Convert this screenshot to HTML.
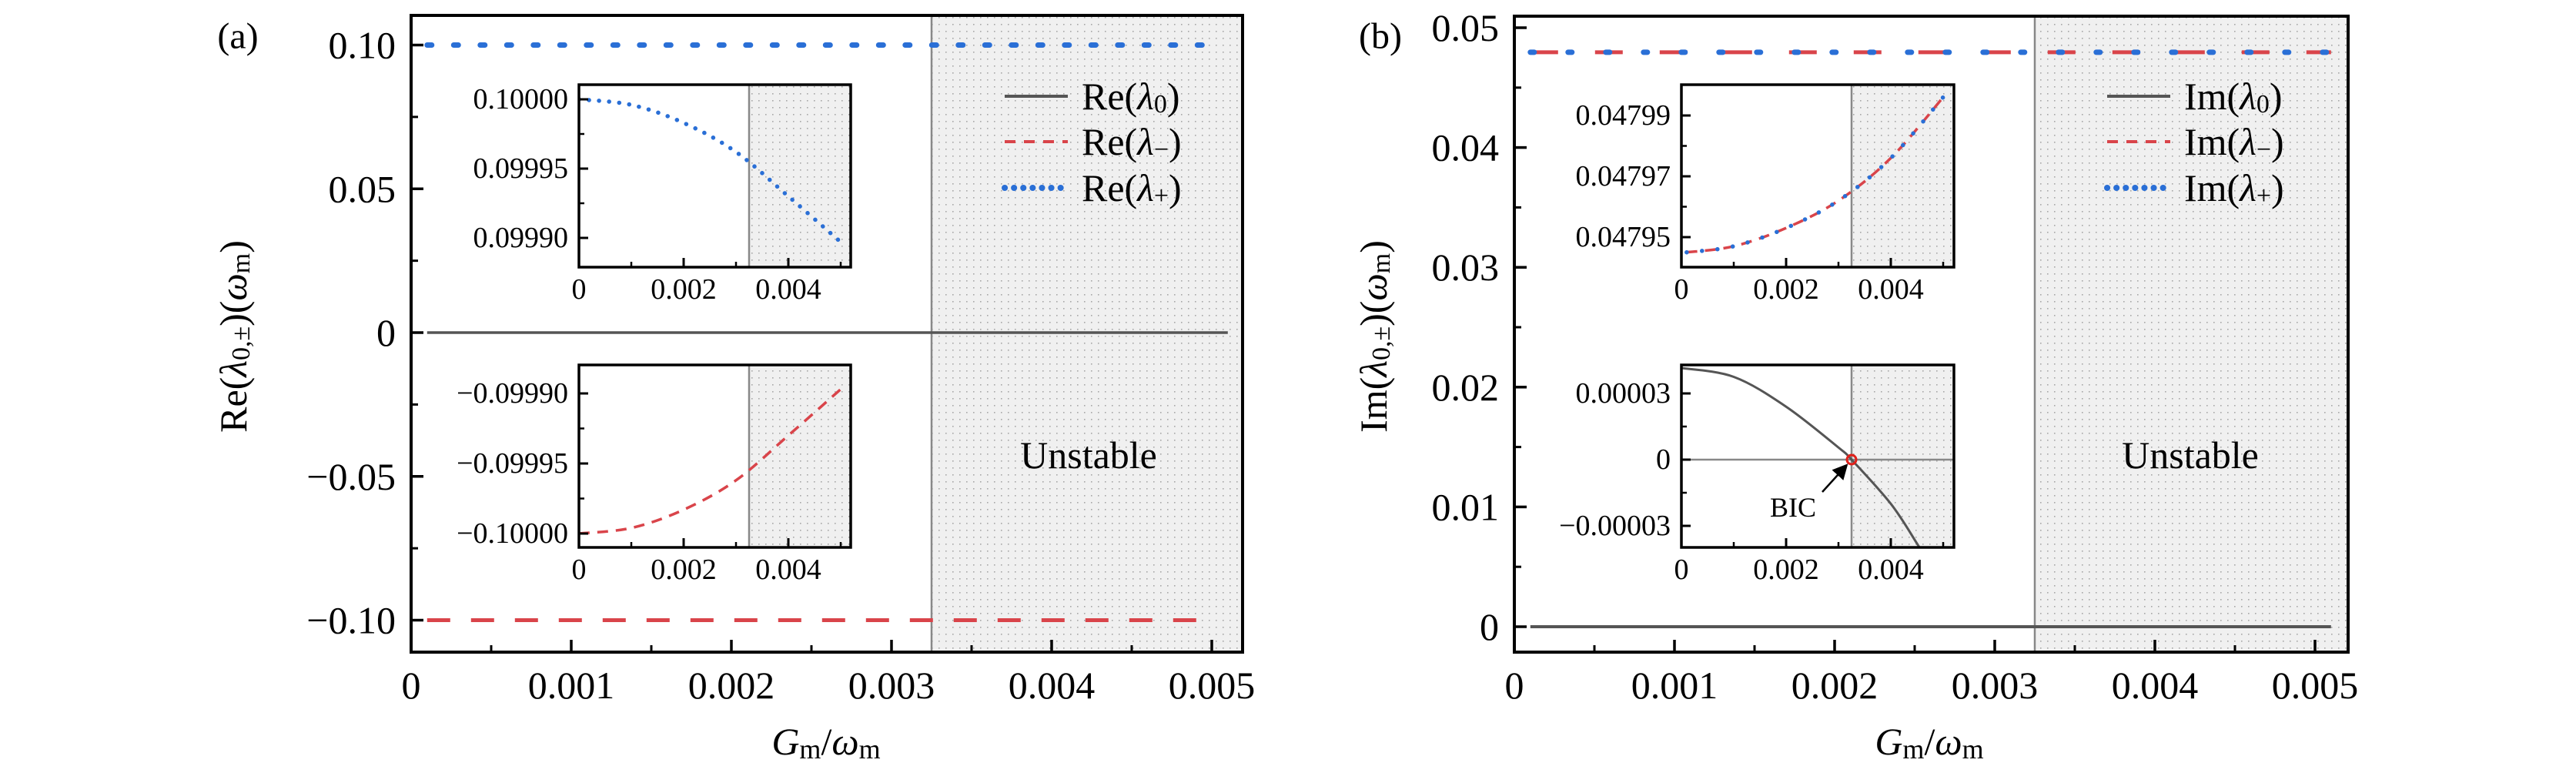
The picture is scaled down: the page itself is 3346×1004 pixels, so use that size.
<!DOCTYPE html>
<html><head><meta charset="utf-8">
<style>
html,body{margin:0;padding:0;background:#fff;}
svg{display:block;font-family:"Liberation Serif",serif;}
</style></head>
<body>
<svg id="fig" width="3346" height="1004" viewBox="0 0 3346 1004" xmlns="http://www.w3.org/2000/svg">
<defs>
<pattern id="dots" width="9" height="9" patternUnits="userSpaceOnUse">
<rect width="9" height="9" fill="#f0f0f0"/>
<rect x="4" y="4" width="1.6" height="1.6" fill="#a8a8a8"/>
</pattern>
<clipPath id="clipA1"><rect x="752" y="110" width="353" height="237"/></clipPath>
<clipPath id="clipA2"><rect x="752" y="474" width="353" height="237"/></clipPath>
<clipPath id="clipB1"><rect x="2184" y="110" width="354" height="237"/></clipPath>
<clipPath id="clipB2"><rect x="2184" y="474" width="354" height="237"/></clipPath>
<marker id="arrowHead" markerWidth="8" markerHeight="8" refX="6" refY="4" orient="auto" markerUnits="strokeWidth"><path d="M0,0 L8,4 L0,8 Z" fill="#000"/></marker>
</defs>
<g id="root"></g>
</svg>
<script>
// ---------- data ----------
const mainXTicks = [0, 0.001, 0.002, 0.003, 0.004, 0.005];
const mainXTickLabels = ["0", "0.001", "0.002", "0.003", "0.004", "0.005"];
const aYTicks = [0.10, 0.05, 0, -0.05, -0.10];
const aYTickLabels = ["0.10", "0.05", "0", "\u22120.05", "\u22120.10"];
const bYTicks = [0.05, 0.04, 0.03, 0.02, 0.01, 0];
const bYTickLabels = ["0.05", "0.04", "0.03", "0.02", "0.01", "0"];
const unstableStart = 0.00325;

const aMainX = [0.0001, 0.005];
const aReLam0X = [0.0001, 0.0051];
const aReLam0 = [0, 0];
const aReLamMinus = [-0.1, -0.1];
const aReLamPlus = [0.1, 0.1];

const insetX = [0, 0.001, 0.002, 0.003, 0.004, 0.005];
const insetAPlus = [0.1, 0.099996, 0.099983, 0.099962, 0.099930, 0.099897];
const insetAMinus = [-0.1, -0.099996, -0.099983, -0.099962, -0.099930, -0.099897];
const insetXTicks = [0, 0.002, 0.004];
const insetXTickLabels = ["0", "0.002", "0.004"];
const insetA1YTicks = [0.1, 0.09995, 0.0999];
const insetA1YTickLabels = ["0.10000", "0.09995", "0.09990"];
const insetA2YTicks = [-0.0999, -0.09995, -0.1];
const insetA2YTickLabels = ["\u22120.09990", "\u22120.09995", "\u22120.10000"];

const bMainX = [0.0001, 0.0051];
const bImLam0 = [0, 0];
const bImLamMinus = [0.04795, 0.04795];
const bImLamPlus = [0.04795, 0.04795];

const insetBImX = [0.0001, 0.001, 0.002, 0.003, 0.004, 0.005];
const insetBImPM = [0.047945, 0.047947, 0.047953, 0.047962, 0.047976, 0.047996];
const insetB1YTicks = [0.04799, 0.04797, 0.04795];
const insetB1YTickLabels = ["0.04799", "0.04797", "0.04795"];
const insetB0X = [0, 0.001, 0.002, 0.003, 0.00325, 0.004, 0.0045, 0.0047];
const insetB0 = [0.0000415, 0.0000375, 0.000024, 0.0000055, 0, -0.00002, -0.000038, -0.000046];
const insetB2YTicks = [0.00003, 0, -0.00003];
const insetB2YTickLabels = ["0.00003", "0", "\u22120.00003"];
const bicPoint = [0.00325, 0];

// ---------- helpers ----------
const NS = "http://www.w3.org/2000/svg";
const root = document.getElementById("root");
function mk(tag, attrs, name, parent) {
  const el = document.createElementNS(NS, tag);
  for (const k in attrs) el.setAttribute(k, attrs[k]);
  
  
  (parent || root).appendChild(el);
  return el;
}
function lin(d0, d1, r0, r1) { return v => r0 + (v - d0) * (r1 - r0) / (d1 - d0); }
function pathFrom(xs, ys, sx, sy) {
  return xs.map((x, i) => (i ? "L" : "M") + sx(x).toFixed(1) + "," + sy(ys[i]).toFixed(1)).join(" ");
}
function smoothPath(xs, ys, sx, sy) {
  const p = xs.map((x, i) => [sx(x), sy(ys[i])]);
  let d = "M" + p[0][0] + "," + p[0][1];
  for (let i = 0; i < p.length - 1; i++) {
    const p0 = p[i - 1] || p[i], p1 = p[i], p2 = p[i + 1], p3 = p[i + 2] || p2;
    const c1 = [p1[0] + (p2[0] - p0[0]) / 6, p1[1] + (p2[1] - p0[1]) / 6];
    const c2 = [p2[0] - (p3[0] - p1[0]) / 6, p2[1] - (p3[1] - p1[1]) / 6];
    d += " C" + c1.join(",") + " " + c2.join(",") + " " + p2.join(",");
  }
  return d;
}
function text(x, y, str, size, anchor, name, parent) {
  const t = mk("text", {x: x, y: y, "font-size": size, "text-anchor": anchor || "middle", "dominant-baseline": "central", fill: "#000"}, name, parent);
  t.textContent = str;
  return t;
}
const RED = "#d9444a", BLUE = "#2a6fd6", GREY = "#555";

// ---------- main panel builder ----------
function mainPanel(P) {
  const g = mk("g", {}, P.id + "-panel");
  const sx = lin(0, 0.001, P.x0, P.x0 + 208);
  const sy = P.sy;
  mk("rect", {x: sx(unstableStart), y: P.top, width: P.right - sx(unstableStart), height: P.bottom - P.top, fill: "url(#dots)"}, "unstable-region", g);
  mk("line", {x1: sx(unstableStart), x2: sx(unstableStart), y1: P.top, y2: P.bottom, stroke: "#888", "stroke-width": 2.5}, "stability-boundary", g);
  P.draw(g, sx, sy);
  mk("rect", {x: P.left, y: P.top, width: P.right - P.left, height: P.bottom - P.top, fill: "none", stroke: "#000", "stroke-width": 4}, "axes-frame", g);
  mainXTicks.forEach((v, i) => {
    mk("line", {x1: sx(v), x2: sx(v), y1: P.bottom, y2: P.bottom - 16, stroke: "#000", "stroke-width": 3.5}, "x-tick", g);
    if (sx(v + 0.0005) < P.right - 4) {
      mk("line", {x1: sx(v + 0.0005), x2: sx(v + 0.0005), y1: P.bottom, y2: P.bottom - 9, stroke: "#000", "stroke-width": 3}, "x-minor-tick", g);
    }
    text(sx(v), 890, mainXTickLabels[i], 50, "middle", "x-tick-label", g);
  });
  P.yTicks.forEach((v, i) => {
    mk("line", {x1: P.left, x2: P.left + 16, y1: sy(v), y2: sy(v), stroke: "#000", "stroke-width": 3.5}, "y-tick", g);
    text(P.left - 20, sy(v), P.yLabels[i], 50, "end", "y-tick-label", g);
  });
  P.yMinor.forEach(v => {
    mk("line", {x1: P.left, x2: P.left + 9, y1: sy(v), y2: sy(v), stroke: "#000", "stroke-width": 3}, "y-minor-tick", g);
  });
  const xl = mk("text", {x: P.xLabelX, y: 963, "font-size": 50, "text-anchor": "middle", "dominant-baseline": "central"}, "x-axis-title", g);
  xl.innerHTML = '<tspan font-style="italic">G</tspan><tspan font-size="36" dy="10">m</tspan><tspan dy="-10">/</tspan><tspan font-style="italic">ω</tspan><tspan font-size="36" dy="10">m</tspan>';
  const yl = mk("text", {x: 0, y: 0, "font-size": 50, "text-anchor": "middle", "dominant-baseline": "central", transform: "translate(" + P.yLabelX + ",437) rotate(-90)"}, "y-axis-title", g);
  yl.innerHTML = P.yTitle;
  text(P.tagX, 47, P.tag, 48, "middle", "panel-label", g);
  text(P.unstableX, 591, "Unstable", 50, "middle", "unstable-label", g);
  const lg = mk("g", {}, "legend", g);
  const rows = [[GREY, "", 4, "solid"], [RED, "14 11", 4, "dash"], [BLUE, "0.1 12", 8, "dot"]];
  rows.forEach((r, i) => {
    const y = [125, 184, 244][i];
    const attrs = {x1: P.legX, x2: P.legX + 82, y1: y, y2: y, stroke: r[0], "stroke-width": r[2]};
    if (r[1]) attrs["stroke-dasharray"] = r[1];
    if (r[3] === "dot") attrs["stroke-linecap"] = "round";
    mk("line", attrs, "legend-swatch", lg);
    const t = mk("text", {x: P.legX + 100, y: y, "font-size": 50, "dominant-baseline": "central"}, "legend-entry", lg);
    t.innerHTML = P.legPrefix + '(<tspan font-style="italic">λ</tspan><tspan font-size="34" dy="10">' + ["0", "−", "+"][i] + '</tspan><tspan dy="-10">)</tspan>';
  });
  return g;
}

function inset(g, I) {
  const ig = mk("g", {}, I.name, g);
  const sx = lin(0, 0.001, I.left, I.left + 68);
  mk("rect", {x: I.left, y: I.top, width: I.right - I.left, height: I.bottom - I.top, fill: "#fff"}, "inset-bg", ig);
  mk("rect", {x: sx(unstableStart), y: I.top, width: I.right - sx(unstableStart), height: I.bottom - I.top, fill: "url(#dots)"}, "inset-unstable-region", ig);
  mk("line", {x1: sx(unstableStart), x2: sx(unstableStart), y1: I.top, y2: I.bottom, stroke: "#888", "stroke-width": 2.5}, "inset-boundary", ig);
  I.draw(ig, sx, I.sy);
  mk("rect", {x: I.left, y: I.top, width: I.right - I.left, height: I.bottom - I.top, fill: "none", stroke: "#000", "stroke-width": 3.5}, "inset-frame", ig);
  insetXTicks.forEach((v, i) => {
    mk("line", {x1: sx(v), x2: sx(v), y1: I.bottom, y2: I.bottom - 12, stroke: "#000", "stroke-width": 3}, "inset-x-tick", ig);
    mk("line", {x1: sx(v + 0.001), x2: sx(v + 0.001), y1: I.bottom, y2: I.bottom - 7, stroke: "#000", "stroke-width": 2.5}, "inset-x-minor-tick", ig);
    text(sx(v), I.bottom + 29, insetXTickLabels[i], 38, "middle", "inset-x-tick-label", ig);
  });
  I.yTicks.forEach((v, i) => {
    mk("line", {x1: I.left, x2: I.left + 12, y1: I.sy(v), y2: I.sy(v), stroke: "#000", "stroke-width": 3}, "inset-y-tick", ig);
    text(I.left - 14, I.sy(v), I.yLabels[i], 38, "end", "inset-y-tick-label", ig);
  });
  for (let k = 0; k < I.yTicks.length - 1; k++) {
    const m = (I.yTicks[k] + I.yTicks[k + 1]) / 2;
    mk("line", {x1: I.left, x2: I.left + 7, y1: I.sy(m), y2: I.sy(m), stroke: "#000", "stroke-width": 2.5}, "inset-y-minor-tick", ig);
  }
}

// ---------- panel (a) ----------
const gA = mainPanel({
  id: "a", x0: 534, left: 534, right: 1614, top: 20, bottom: 847,
  sy: lin(0, 0.1, 432, 58.5),
  yTicks: aYTicks, yLabels: aYTickLabels, yMinor: [0.075, 0.025, -0.025, -0.075],
  xLabelX: 1073, yLabelX: 303, tag: "(a)", tagX: 309, unstableX: 1414, legX: 1305, legPrefix: "Re",
  yTitle: 'Re(<tspan font-style="italic">λ</tspan><tspan font-size="34" dy="10">0,±</tspan><tspan dy="-10">)(</tspan><tspan font-style="italic">ω</tspan><tspan font-size="34" dy="10">m</tspan><tspan dy="-10">)</tspan>',
  draw: (g, sx, sy) => {
    mk("path", {d: pathFrom(aReLam0X, aReLam0, sx, sy), stroke: GREY, "stroke-width": 3.5, fill: "none"}, "series-re-lambda0", g);
    mk("path", {d: pathFrom(aMainX, aReLamMinus, sx, sy), stroke: RED, "stroke-width": 5, fill: "none", "stroke-dasharray": "30 27"}, "series-re-lambda-minus", g);
    mk("path", {d: pathFrom(aMainX, aReLamPlus, sx, sy), stroke: BLUE, "stroke-width": 7, fill: "none", "stroke-dasharray": "6 28.5", "stroke-linecap": "round"}, "series-re-lambda-plus", g);
  }
});
inset(gA, {name: "inset-a-upper", left: 752, right: 1105, top: 110, bottom: 347,
  sy: lin(0.1, 0.09995, 129, 219), yTicks: insetA1YTicks, yLabels: insetA1YTickLabels,
  draw: (g, sx, sy) => {
    mk("path", {d: smoothPath(insetX, insetAPlus, sx, sy), stroke: BLUE, "stroke-width": 5.5, fill: "none", "stroke-dasharray": "0.1 13", "stroke-linecap": "round", "clip-path": "url(#clipA1)"}, "inset-re-lambda-plus", g);
  }});
inset(gA, {name: "inset-a-lower", left: 752, right: 1105, top: 474, bottom: 711,
  sy: lin(-0.0999, -0.09995, 511, 602), yTicks: insetA2YTicks, yLabels: insetA2YTickLabels,
  draw: (g, sx, sy) => {
    mk("path", {d: smoothPath(insetX, insetAMinus, sx, sy), stroke: RED, "stroke-width": 3.5, fill: "none", "stroke-dasharray": "14 10", "clip-path": "url(#clipA2)"}, "inset-re-lambda-minus", g);
  }});

// ---------- panel (b) ----------
const gB = mainPanel({
  id: "b", x0: 1967, left: 1967, right: 3050, top: 21, bottom: 847,
  sy: lin(0, 0.01, 814, 658.4),
  yTicks: bYTicks, yLabels: bYTickLabels, yMinor: [0.045, 0.035, 0.025, 0.015, 0.005],
  xLabelX: 2506, yLabelX: 1784, tag: "(b)", tagX: 1793, unstableX: 2845, legX: 2737, legPrefix: "Im",
  yTitle: 'Im(<tspan font-style="italic">λ</tspan><tspan font-size="34" dy="10">0,±</tspan><tspan dy="-10">)(</tspan><tspan font-style="italic">ω</tspan><tspan font-size="34" dy="10">m</tspan><tspan dy="-10">)</tspan>',
  draw: (g, sx, sy) => {
    mk("path", {d: pathFrom(bMainX, bImLam0, sx, sy), stroke: GREY, "stroke-width": 4, fill: "none"}, "series-im-lambda0", g);
    mk("path", {d: pathFrom(bMainX, bImLamMinus, sx, sy), stroke: RED, "stroke-width": 5, fill: "none", "stroke-dasharray": "36 48"}, "series-im-lambda-minus", g);
    mk("path", {d: pathFrom(bMainX, bImLamPlus, sx, sy), stroke: BLUE, "stroke-width": 7, fill: "none", "stroke-dasharray": "5 44", "stroke-linecap": "round"}, "series-im-lambda-plus", g);
  }
});
inset(gB, {name: "inset-b-upper", left: 2184, right: 2538, top: 110, bottom: 347,
  sy: lin(0.04799, 0.04795, 150, 308), yTicks: insetB1YTicks, yLabels: insetB1YTickLabels,
  draw: (g, sx, sy) => {
    mk("path", {d: smoothPath(insetBImX, insetBImPM, sx, sy), stroke: RED, "stroke-width": 3.5, fill: "none", "stroke-dasharray": "14 10", "clip-path": "url(#clipB1)"}, "inset-im-lambda-minus", g);
    mk("path", {d: smoothPath(insetBImX, insetBImPM, sx, sy), stroke: BLUE, "stroke-width": 5.5, fill: "none", "stroke-dasharray": "0.1 20", "stroke-linecap": "round", "clip-path": "url(#clipB1)"}, "inset-im-lambda-plus", g);
  }});
inset(gB, {name: "inset-b-lower", left: 2184, right: 2538, top: 474, bottom: 711,
  sy: lin(0, 0.00003, 597, 511), yTicks: insetB2YTicks, yLabels: insetB2YTickLabels,
  draw: (g, sx, sy) => {
    mk("line", {x1: 2184, x2: 2538, y1: sy(0), y2: sy(0), stroke: "#888", "stroke-width": 2.5}, "inset-zero-line", g);
    mk("path", {d: smoothPath(insetB0X, insetB0, sx, sy), stroke: GREY, "stroke-width": 3, fill: "none", "clip-path": "url(#clipB2)"}, "inset-im-lambda0", g);
    mk("circle", {cx: sx(bicPoint[0]), cy: sy(bicPoint[1]), r: 6, fill: "none", stroke: "#e0201a", "stroke-width": 3}, "bic-marker", g);
    mk("line", {x1: sx(bicPoint[0]) - 38, y1: sy(bicPoint[1]) + 42, x2: sx(bicPoint[0]) - 8, y2: sy(bicPoint[1]) + 9, stroke: "#000", "stroke-width": 2.5, "marker-end": "url(#arrowHead)"}, "bic-arrow", g);
    text(sx(bicPoint[0]) - 76, sy(bicPoint[1]) + 62, "BIC", 36, "middle", "bic-label", g);
  }});
</script>
</body></html>
